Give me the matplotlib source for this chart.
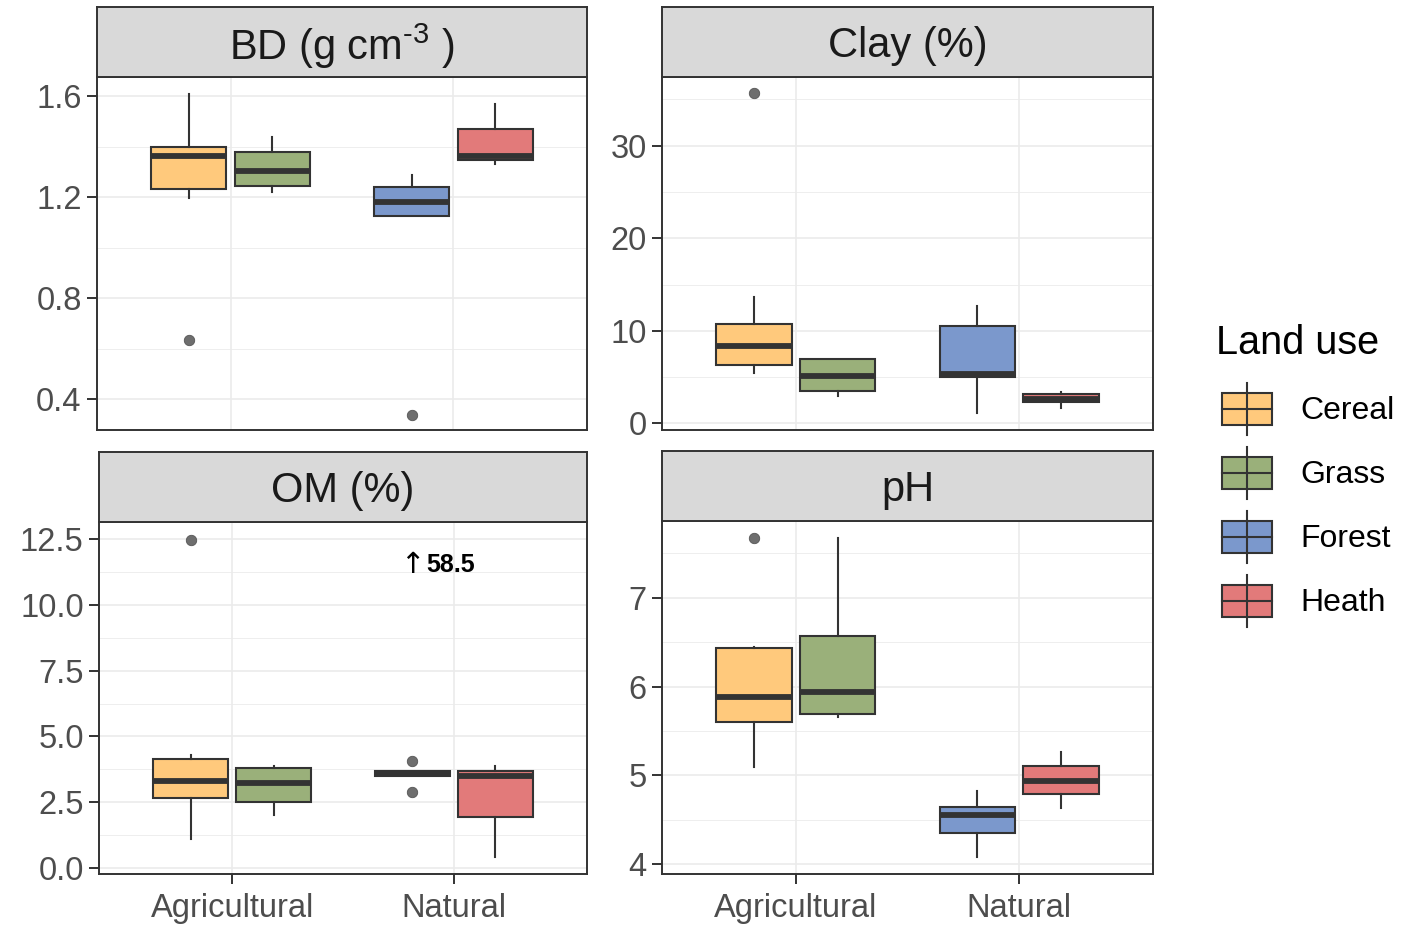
import numpy as np
import matplotlib
matplotlib.use("Agg")
import matplotlib.pyplot as plt
from matplotlib.patches import Rectangle

plt.rcParams['font.family'] = ['Liberation Sans', 'DejaVu Sans']
plt.rcParams['mathtext.fontset'] = 'custom'
plt.rcParams['mathtext.rm'] = 'Liberation Sans'
plt.rcParams['mathtext.it'] = 'Liberation Sans:italic'

# ----------------------------------------------------------------
# donnees (stats des boites)

land_use = ['Cereal', 'Grass', 'Forest', 'Heath']
land_group = [1, 1, 2, 2]          # 1 = Agricultural, 2 = Natural
group_labels = ['Agricultural', 'Natural']
colors = ['#FFC97C', '#9AB07A', '#7B98CC', '#E27A7A']

bd_whislo = [1.197, 1.219, 1.124, 1.332]
bd_q1 = [1.233, 1.243, 1.124, 1.346]
bd_med = [1.365, 1.306, 1.180, 1.363]
bd_q3 = [1.398, 1.381, 1.242, 1.472]
bd_whishi = [1.611, 1.439, 1.290, 1.571]
bd_out = [[0.634], [], [0.338], []]

clay_whislo = [5.41, 2.96, 1.08, 1.62]
clay_q1 = [6.35, 3.46, 4.98, 2.27]
clay_med = [8.37, 5.16, 5.37, 2.63]
clay_q3 = [10.75, 6.96, 10.57, 3.17]
clay_whishi = [13.6, 6.96, 12.73, 3.39]
clay_out = [[35.67], [], [], []]

om_whislo = [1.11, 2.00, 3.50, 0.40]
om_q1 = [2.65, 2.50, 3.50, 1.93]
om_med = [3.32, 3.22, 3.60, 3.48]
om_q3 = [4.15, 3.79, 3.69, 3.69]
om_whishi = [4.31, 3.88, 3.69, 3.88]
om_out = [[12.48], [], [4.08, 2.88, 58.5], []]

ph_whislo = [5.10, 5.66, 4.08, 4.63]
ph_q1 = [5.60, 5.69, 4.35, 4.79]
ph_med = [5.88, 5.94, 4.56, 4.94]
ph_q3 = [6.43, 6.57, 4.64, 5.11]
ph_whishi = [6.45, 7.67, 4.82, 5.26]
ph_out = [[7.67], [], [], []]

# ----------------------------------------------------------------
# mise en page (pixels de l'image d'origine)

W, H = 1411, 926
fig = plt.figure(figsize=(W / 100, H / 100), dpi=100)

def px_axes(x0, y0, x1, y1, **kw):
    return fig.add_axes([x0 / W, 1 - y1 / H, (x1 - x0) / W, (y1 - y0) / H], **kw)

dark = '#333333'
dodge = 0.1875
box_w = 0.3375

panels = [
    # titre, stats, ylim, majeurs, mineurs, format, boite axes, boite strip, labels x
    ('BD (g cm$^{\\text{-3}}$ )', (bd_whislo, bd_q1, bd_med, bd_q3, bd_whishi, bd_out),
     (0.277, 1.677), [0.4, 0.8, 1.2, 1.6], [0.6, 1.0, 1.4], '%.1f',
     (97, 77, 587, 430), (97, 7, 587, 77), False),
    ('Clay (%)', (clay_whislo, clay_q1, clay_med, clay_q3, clay_whishi, clay_out),
     (-0.72, 37.43), [0, 10, 20, 30], [5, 15, 25, 35], '%d',
     (662, 77, 1153, 430), (662, 7, 1153, 77), False),
    ('OM (%)', (om_whislo, om_q1, om_med, om_q3, om_whishi, om_out),
     (-0.23, 13.15), [0, 2.5, 5, 7.5, 10, 12.5], [1.25, 3.75, 6.25, 8.75, 11.25], '%.1f',
     (99, 522, 587, 874), (99, 452, 587, 522), True),
    ('pH', (ph_whislo, ph_q1, ph_med, ph_q3, ph_whishi, ph_out),
     (3.891, 7.865), [4, 5, 6, 7], [4.5, 5.5, 6.5, 7.5], '%d',
     (662, 521, 1153, 874), (662, 451, 1153, 521), True),
]

axes = {}
for title, st, ylim, major, minor, fmt, abox, sbox, xlab in panels:
    ax = px_axes(*abox)
    whislo, q1, med, q3, whishi, out = st
    stats = []
    for i in range(len(land_use)):
        stats.append(dict(whislo=whislo[i], q1=q1[i], med=med[i], q3=q3[i],
                          whishi=whishi[i], fliers=np.array(out[i])))
    pos = [g + (-dodge if k % 2 == 0 else dodge) for k, g in enumerate(land_group)]
    bp = ax.bxp(stats, positions=pos, widths=box_w, patch_artist=True,
                showcaps=False,
                boxprops=dict(edgecolor=dark, linewidth=1.5),
                medianprops=dict(color=dark, linewidth=4.2, solid_capstyle='butt'),
                whiskerprops=dict(color=dark, linewidth=1.5),
                flierprops=dict(marker='o', markersize=7.5, markerfacecolor='#6E6E6E',
                                markeredgecolor='#555555', markeredgewidth=0.6))
    for patch, c in zip(bp['boxes'], colors):
        patch.set_facecolor(c)
    for m in bp['medians']:
        m.set_zorder(4)

    ax.set_xlim(0.4, 2.6)
    ax.set_ylim(*ylim)
    ax.set_yticks(major)
    ax.set_yticklabels([fmt % v for v in major])
    ax.set_yticks(minor, minor=True)
    ax.set_xticks([1, 2])
    ax.tick_params(axis='both', which='major', direction='out', length=7, width=1.4,
                   color=dark, labelcolor='#4D4D4D', labelsize=23.5, pad=4)
    ax.tick_params(axis='y', which='minor', length=0)
    if xlab:
        ax.set_xticklabels(group_labels)
        ax.tick_params(axis='x', which='major', length=7, pad=6.5)
    else:
        ax.tick_params(axis='x', which='both', length=0, labelbottom=False)
    ax.grid(True, which='major', color='#EBEBEB', linewidth=1.2, zorder=0)
    ax.grid(True, which='minor', axis='y', color='#EBEBEB', linewidth=0.6, zorder=0)
    ax.set_axisbelow(True)
    for s in ax.spines.values():
        s.set_color(dark)
        s.set_linewidth(1.4)

    sax = px_axes(*sbox)
    sax.set_facecolor('#D9D9D9')
    sax.set_xticks([])
    sax.set_yticks([])
    for s in sax.spines.values():
        s.set_color(dark)
        s.set_linewidth(1.4)
    sax.text(0.5, 0.44, title, transform=sax.transAxes, ha='center', va='center',
             fontsize=30, color='#1A1A1A')
    axes[title] = ax

# valeur hors cadre (Forest, OM) : fleche + valeur
om_ax = axes['OM (%)']
om_ax.text(2 - dodge - 0.055, 11.5, '\u2191', ha='left', va='center',
           fontsize=21, family='DejaVu Sans', color='black')
om_ax.text(2 - dodge + 0.062, 11.5, '58.5', ha='left', va='center',
           fontsize=18, fontweight='bold', color='black')

# ----------------------------------------------------------------
# legende

lax = px_axes(1195, 300, 1411, 660)
lax.set_xlim(1195, 1411)
lax.set_ylim(660, 300)
lax.axis('off')
lax.text(1216, 343, 'Land use', ha='left', va='center', fontsize=28.5, color='black')
for k, (lab, c) in enumerate(zip(land_use, colors)):
    yc = 409 + 64 * k
    lax.plot([1247, 1247], [yc - 26, yc + 26], color=dark, lw=1.5)
    lax.add_patch(Rectangle((1222, yc - 16), 50, 32, facecolor=c, edgecolor=dark, lw=1.5))
    lax.plot([1222, 1272], [yc, yc], color=dark, lw=1.5)
    lax.text(1300, yc + 2, lab, ha='left', va='center', fontsize=23, color='black')

plt.savefig('out.png', dpi=100)
